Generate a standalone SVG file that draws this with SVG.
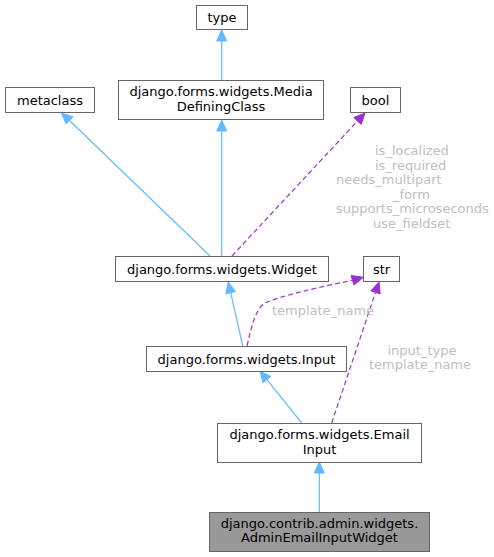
<svg xmlns="http://www.w3.org/2000/svg" width="494" height="557" viewBox="0 0 494 557">
<style>
.n rect{fill:#ffffff;stroke:#666666;stroke-width:1}
.n text{font-family:"DejaVu Sans",sans-serif;font-size:13px;fill:#000000;text-anchor:middle}
.inh{stroke:#63b8ff;stroke-width:1.2;fill:none}
.inhh{fill:#63b8ff;stroke:#63b8ff}
.use{stroke:#9a32cd;stroke-width:1.2;fill:none;stroke-dasharray:5,3}
.useh{fill:#9a32cd;stroke:#9a32cd}
.lbl{font-family:"DejaVu Sans",sans-serif;font-size:13px;fill:#c0c0c0}
</style>
<rect width="494" height="557" fill="#ffffff"/>
<g id="connectors">
  <line class="inh" x1="221.7" y1="80" x2="221.7" y2="41"/>
  <polygon class="inhh" points="221.7,30 226.7,41 216.7,41"/>
  <line class="inh" x1="221.7" y1="256" x2="221.7" y2="131"/>
  <polygon class="inhh" points="221.7,120 226.7,131 216.7,131"/>
  <line class="inh" x1="210" y1="256" x2="69.5" y2="120.5"/>
  <polygon class="inhh" points="61.5,113 73,116.8 66,124"/>
  <line class="use" x1="232" y1="256" x2="357.5" y2="121"/>
  <polygon class="useh" points="365,113 361.2,124.4 353.8,117.6"/>
  <line class="inh" x1="242.7" y1="346" x2="230.7" y2="292.7"/>
  <polygon class="inhh" points="228.3,282 235.6,291.6 225.8,293.8"/>
  <path class="use" d="M247,346 C252,325 255,310 265,303 C280,296 320,287 352.5,280.3"/>
  <polygon class="useh" points="363.3,277.3 354,285.1 351,275.5"/>
  <line class="inh" x1="301.7" y1="423" x2="266.9" y2="379.6"/>
  <polygon class="inhh" points="260,371 270.8,376.5 263,382.7"/>
  <line class="use" x1="331.7" y1="423" x2="375.5" y2="292.4"/>
  <polygon class="useh" points="379,282 380.2,294 370.8,290.8"/>
  <line class="inh" x1="319.3" y1="512" x2="319.3" y2="473"/>
  <polygon class="inhh" points="319.3,462 324.3,473 314.3,473"/>
  <text class="lbl" x="375" y="155">is_localized</text>
  <text class="lbl" x="375" y="169.5">is_required</text>
  <text class="lbl" x="336" y="184">needs_multipart</text>
  <text class="lbl" x="393" y="198.5">_form</text>
  <text class="lbl" x="336" y="213">supports_microseconds</text>
  <text class="lbl" x="373" y="227.5">use_fieldset</text>
  <text class="lbl" x="272" y="315">template_name</text>
  <text class="lbl" x="422" y="355" text-anchor="middle">input_type</text>
  <text class="lbl" x="420" y="369" text-anchor="middle">template_name</text>
</g>
<g id="node-type" class="n">
  <rect x="196.5" y="5.5" width="51" height="24"/>
  <text x="222" y="22">type</text>
</g>
<g id="node-mediadefiningclass" class="n">
  <rect x="118.5" y="80.5" width="205" height="39"/>
  <text x="221" y="96">django.forms.widgets.Media</text>
  <text x="221" y="110.5">DefiningClass</text>
</g>
<g id="node-metaclass" class="n">
  <rect x="5.5" y="87.5" width="89" height="25"/>
  <text x="50" y="104.5">metaclass</text>
</g>
<g id="node-bool" class="n">
  <rect x="350.5" y="87.5" width="50" height="25"/>
  <text x="375.5" y="104.5">bool</text>
</g>
<g id="node-widget" class="n">
  <rect x="115.5" y="256.5" width="213" height="25"/>
  <text x="222" y="274">django.forms.widgets.Widget</text>
</g>
<g id="node-str" class="n">
  <rect x="363.5" y="256.5" width="36" height="25"/>
  <text x="381.5" y="274">str</text>
</g>
<g id="node-input" class="n">
  <rect x="146.5" y="346.5" width="200" height="25"/>
  <text x="246.5" y="364">django.forms.widgets.Input</text>
</g>
<g id="node-emailinput" class="n">
  <rect x="217.5" y="423.5" width="204" height="39"/>
  <text x="319.5" y="439">django.forms.widgets.Email</text>
  <text x="319.5" y="453.5">Input</text>
</g>
<g id="node-adminemailinputwidget" class="n">
  <rect x="209.5" y="512.5" width="220" height="39" style="fill:#999999"/>
  <text x="319.5" y="527.5">django.contrib.admin.widgets.</text>
  <text x="319.5" y="542">AdminEmailInputWidget</text>
</g>
</svg>
